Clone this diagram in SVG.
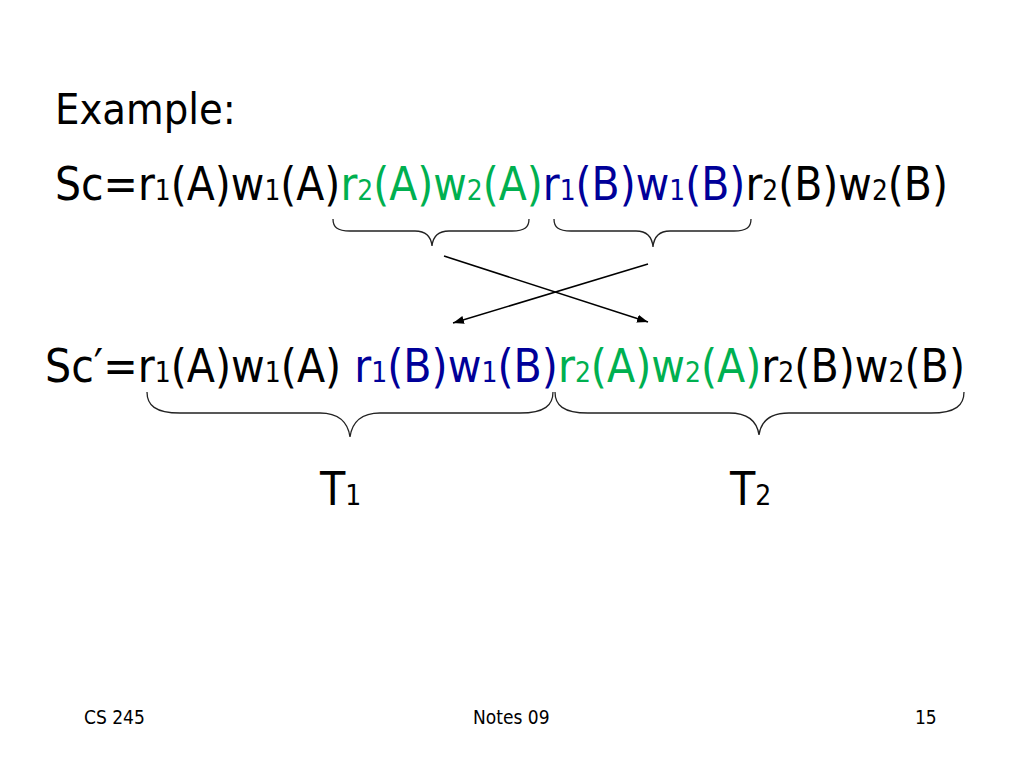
<svg xmlns="http://www.w3.org/2000/svg" width="1024" height="768" viewBox="0 0 1024 768">
<defs>
<style>
.t{font-family:"DejaVu Sans Condensed","DejaVu Sans",sans-serif;font-stretch:condensed;font-size:46px;fill:#000}
.ex{font-size:43px}
.g{fill:#00B050}
.b{fill:#000099}
.k{fill:#000}
.s{font-size:28px}
.f{font-family:"DejaVu Sans Condensed","DejaVu Sans",sans-serif;font-stretch:condensed;font-size:19px;fill:#000}
.br{fill:none;stroke:#222;stroke-width:1.3}
.ar{fill:none;stroke:#000;stroke-width:1.5}
</style>
<marker id="ah" markerUnits="userSpaceOnUse" markerWidth="12" markerHeight="10" refX="11" refY="4" orient="auto">
<path d="M0,0 L11,4 L0,8 z" fill="#000"/>
</marker>
</defs>
<rect width="1024" height="768" fill="#fff"/>

<g id="title">
<text class="t ex" x="55" y="124">Example:</text>
</g>

<g id="sc">
<text class="t" x="55" y="200" textLength="893" lengthAdjust="spacingAndGlyphs">Sc=r<tspan class="s">1</tspan>(A)w<tspan class="s">1</tspan>(A)<tspan class="g">r<tspan class="s">2</tspan>(A)w<tspan class="s">2</tspan>(A)</tspan><tspan class="b">r<tspan class="s">1</tspan>(B)w<tspan class="s">1</tspan>(B)</tspan>r<tspan class="s">2</tspan>(B)w<tspan class="s">2</tspan>(B)</text>
</g>

<g id="sc-prime">
<text class="t" x="45" y="382" textLength="920" lengthAdjust="spacingAndGlyphs">Sc′=r<tspan class="s">1</tspan>(A)w<tspan class="s">1</tspan>(A) <tspan class="b">r<tspan class="s">1</tspan>(B)w<tspan class="s">1</tspan>(B)</tspan><tspan class="g">r<tspan class="s">2</tspan>(A)w<tspan class="s">2</tspan>(A)</tspan>r<tspan class="s">2</tspan>(B)w<tspan class="s">2</tspan>(B)</text>
</g>

<g id="braces">
<path class="br" d="M333,219 C333,227 337,231 350,231 L415,231 C425,231 431,236 432,246 C433,236 439,231 449,231 L512,231 C525,231 529,227 529,219"/>
<path class="br" d="M554,219 C554,227 558,231 571,231 L636,231 C646,231 652,236 653,247 C654,236 660,231 670,231 L734,231 C747,231 751,227 751,219"/>
<path class="br" d="M147,392 C147,405 155,413 180,413 L320,413 C338,413 348,422 350,437 C352,422 362,413 380,413 L520,413 C545,413 553,405 553,392"/>
<path class="br" d="M555,392 C555,405 563,413 588,413 L729,413 C747,413 757,421 759,435 C761,421 771,413 789,413 L931,413 C956,413 964,405 964,392"/>
</g>

<g id="connectors">
<line class="ar" x1="444" y1="256" x2="648" y2="322" marker-end="url(#ah)"/>
<line class="ar" x1="648" y1="264" x2="453" y2="323" marker-end="url(#ah)"/>
</g>

<g id="t1">
<text class="t" x="320" y="505">T<tspan class="s">1</tspan></text>
</g>
<g id="t2">
<text class="t" x="730" y="505">T<tspan class="s">2</tspan></text>
</g>

<g id="footer">
<text class="f" x="84" y="724">CS 245</text>
<text class="f" x="473" y="724">Notes 09</text>
<text class="f" x="915" y="724">15</text>
</g>
</svg>
